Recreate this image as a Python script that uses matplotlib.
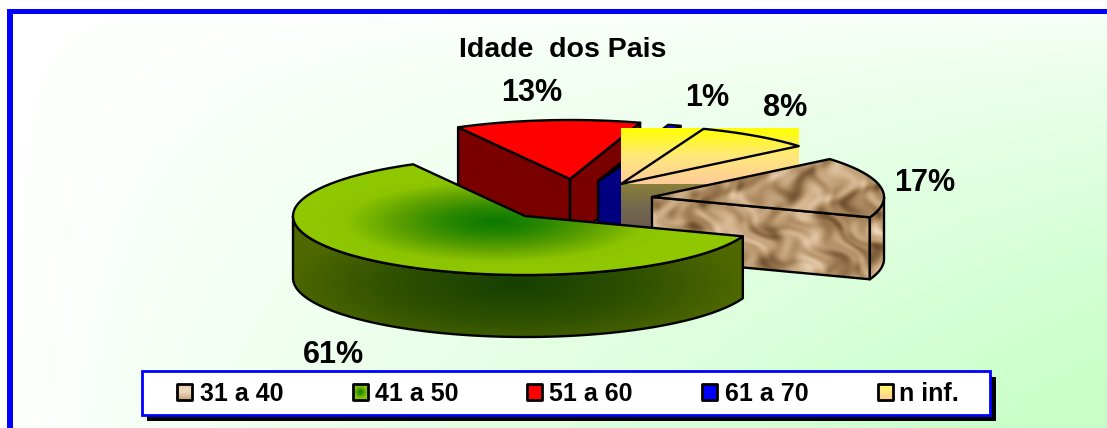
"""Idade dos Pais: exploded 3D-look pie drawn in pixel coordinates."""

import matplotlib

matplotlib.use("Agg")
import matplotlib.pyplot as plt
import numpy as np
from matplotlib.colors import LinearSegmentedColormap, to_rgb
from matplotlib.patches import Polygon, Rectangle

plt.rcParams["font.family"] = ["Liberation Sans", "DejaVu Sans"]

W, H = 1107, 428

title = "Idade  dos Pais"
categories = ["31 a 40", "41 a 50", "51 a 60", "61 a 70", "n inf."]
# estimated shares, the picture only prints them rounded
values = [16.7, 61.4, 12.9, 0.9, 8.1]

# layout
START_ANGLE = -40
RX, RY, DEPTH = 232, 59, 62
tips = [(652, 197), (525, 216), (570, 179), (598, 181), (621, 184)]
label_pos = [(532, 93), (707, 98), (785, 108), (925, 183), (333, 355)]
label_order = [2, 3, 4, 0, 1]
legend_swatch_x = [176, 352, 526, 701, 877]
legend_text_x = [200, 375, 549, 725, 899]

LINE = 1.7


def ramp(*colors):
    return LinearSegmentedColormap.from_list("r", colors)


def arc(tip, a0, a1):
    t = np.radians(np.linspace(a0, a1, 120))
    return np.column_stack((tip[0] + RX * np.cos(t), tip[1] + RY * np.sin(t)))


def paint(ax, rgb, extent, clip=None, zorder=2):
    x0, x1, y0, y1 = extent
    im = ax.imshow(rgb, extent=(x0, x1, y1, y0), aspect="auto", origin="upper",
                   zorder=zorder, interpolation="bilinear")
    if clip is not None:
        im.set_clip_path(clip)
    return im


def grid(extent, step=1.0):
    x0, x1, y0, y1 = extent
    xs = np.arange(x0, x1 + step, step)
    ys = np.arange(y0, y1 + step, step)
    return np.meshgrid(xs, ys)


def marble(x, y):
    # crumpled paper look, no randomness needed
    wx = x + 14 * np.sin(y * 0.061 + 0.9) + 7 * np.sin(y * 0.17 + x * 0.05)
    wy = y + 11 * np.sin(x * 0.053 + 2.1) + 6 * np.cos(x * 0.14 - y * 0.07)
    v = (np.sin(wx * 0.083 + wy * 0.041)
         + 0.8 * np.sin(wx * 0.037 - wy * 0.171 + 1.3)
         + 0.55 * np.sin(wx * 0.191 + wy * 0.113 + 0.4)
         + 0.4 * np.sin(wx * 0.29 - wy * 0.23 + 2.2))
    v = (v - v.min()) / (v.max() - v.min())
    return ramp("#6a4a2a", "#96754e", "#b9986f", "#d3b48e", "#ecd6b8")(v)[..., :3]


def poly(ax, pts, fc="none", zorder=2, lw=LINE):
    p = Polygon(pts, closed=True, facecolor=fc, edgecolor="black", linewidth=lw,
                zorder=zorder, joinstyle="round")
    ax.add_patch(p)
    return p


def textured(ax, pts, painter, zorder, lw=LINE):
    # filled polygon whose colour comes from an image clipped to it
    pts = np.asarray(pts)
    ext = (pts[:, 0].min(), pts[:, 0].max(), pts[:, 1].min(), pts[:, 1].max())
    xx, yy = grid(ext)
    outline = poly(ax, pts, zorder=zorder + 0.1, lw=lw)
    paint(ax, painter(xx, yy), ext, clip=outline, zorder=zorder)


def solid(color):
    c = np.array(to_rgb(color))

    def f(xx, yy):
        return np.broadcast_to(c, xx.shape + (3,))

    return f


def green_top(tip):
    cm = ramp("#0a7800", "#2a8800", "#5da000", "#8cc400", "#90c800")

    def f(xx, yy):
        d = np.hypot((xx - tip[0] + 30) / 200, (yy - tip[1] - 6) / 54)
        return cm(np.clip(d, 0, 1))[..., :3]

    return f


def green_side(tip):
    cm = ramp("#163f00", "#2c4f00", "#4f6800")

    def f(xx, yy):
        d = np.hypot((xx - tip[0] + 10) / 230, (yy - tip[1] - 68) / 70)
        return cm(np.clip(d, 0, 1))[..., :3]

    return f


def draw_slice(ax, tip, a0, a1, top, side, zorder):
    outer = arc(tip, a0, a1)
    # a cut face only shows when it turns towards the viewer
    faces = []
    if np.cos(np.radians(a0)) < 0:
        faces.append(outer[0])
    if np.cos(np.radians(a1)) > 0:
        faces.append(outer[-1])
    for end in faces:
        face = [tip, end, (end[0], end[1] + DEPTH), (tip[0], tip[1] + DEPTH)]
        textured(ax, face, side, zorder)
    lo, hi = max(a0, 0), min(a1, 180)
    if lo < hi:
        rim = arc(tip, lo, hi)
        wall = np.vstack((rim, (rim + (0, DEPTH))[::-1]))
        textured(ax, wall, side, zorder + 0.2)
    textured(ax, np.vstack(([tip], outer)), top, zorder + 0.4)


def draw_n_inf(ax, tip, a0, a1, zorder):
    # the old renderer spills this slice's gradient over its whole bounding box
    outer = arc(tip, a0, a1)
    x0, x1 = tip[0], outer[:, 0].max()
    y0 = outer[:, 1].min()
    side_ext = (x0, x1, tip[1], tip[1] + DEPTH)
    xx, yy = grid(side_ext)
    side = ramp("#8a8038", "#75694f", "#6a5a50")(np.clip((yy - tip[1]) / 45, 0, 1))[..., :3]
    paint(ax, side, side_ext, zorder=zorder)
    top_ext = (x0, x1, y0, tip[1])
    xx, yy = grid(top_ext)
    top = ramp("#ffff00", "#ffe97a", "#ffcc99")((yy - y0) / (tip[1] - y0))[..., :3]
    paint(ax, top, top_ext, zorder=zorder + 0.2)
    poly(ax, np.vstack(([tip], outer)), zorder=zorder + 0.4)


fig = plt.figure(figsize=(W / 100, H / 100), dpi=100)
ax = fig.add_axes([0, 0, 1, 1])
ax.set_xlim(0, W)
ax.set_ylim(H, 0)
ax.axis("off")

# background
xx, yy = grid((0, W, 0, H), 4.0)
shade = np.clip((xx / W) ** 0.9 * (yy / H) ** 0.6 * 1.05, 0, 1)
paint(ax, ramp("#ffffff", "#c8ffc8")(shade)[..., :3], (0, W, 0, H), zorder=0)
ax.add_patch(Rectangle((0, 0), W, 9, fc="white", ec="none", zorder=0.5))
ax.add_patch(Rectangle((0, 0), 7, H, fc="white", ec="none", zorder=0.5))
# frame runs off the right and bottom of the image
ax.add_patch(Rectangle((7, 9), W, 5, fc="#0000ff", ec="none", zorder=1))
ax.add_patch(Rectangle((7, 9), 5.5, H, fc="#0000ff", ec="none", zorder=1))

ax.text(563, 50, title, ha="center", va="center", fontsize=20.5, fontweight="bold")

sweep = np.array(values) / sum(values) * 360
ends = START_ANGLE + np.cumsum(sweep)
starts = ends - sweep

draw_slice(ax, tips[2], starts[2], ends[2], solid("#ff0000"), solid("#7a0000"), 2)
draw_slice(ax, tips[3], starts[3], ends[3], solid("#0000ff"), solid("#000080"), 3)
draw_n_inf(ax, tips[4], starts[4], ends[4], 4)
draw_slice(ax, tips[0], starts[0], ends[0], marble, marble, 5)
draw_slice(ax, tips[1], starts[1], ends[1], green_top(tips[1]), green_side(tips[1]), 6)

for i, (x, y) in zip(label_order, label_pos):
    ax.text(x, y, f"{round(values[i])}%", ha="center", va="center", fontsize=22,
            fontweight="bold", zorder=8)

# legend
ax.add_patch(Rectangle((147, 377), 849, 44, fc="black", ec="none", zorder=9))
ax.add_patch(Rectangle((142, 371), 848, 44, fc="white", ec="#0000ff", lw=2, zorder=9.1))


def swatch_beige(xx, yy):
    v = (yy - yy.min()) / (yy.max() - yy.min())
    return ramp("#e8cfae", "#eed8bc", "#c9a57e")(v)[..., :3]


def swatch_green(xx, yy):
    cx, cy = xx.mean(), yy.mean()
    return ramp("#0a7800", "#8cc400")(np.clip(np.hypot(xx - cx, yy - cy) / 7, 0, 1))[..., :3]


def swatch_yellow(xx, yy):
    return ramp("#ffff66", "#ffcc99")((yy - yy.min()) / (yy.max() - yy.min()))[..., :3]


swatches = [swatch_beige, swatch_green, solid("#ff0000"), solid("#0000ff"), swatch_yellow]
for name, sx, tx, sw in zip(categories, legend_swatch_x, legend_text_x, swatches):
    box = [(sx + 1, 384), (sx + 16, 384), (sx + 16, 400), (sx + 1, 400)]
    textured(ax, box, sw, 10, lw=2)
    ax.text(tx, 394, name, ha="left", va="center", fontsize=18, fontweight="bold", zorder=11)

fig.savefig("out.png", dpi=100)
plt.close(fig)
